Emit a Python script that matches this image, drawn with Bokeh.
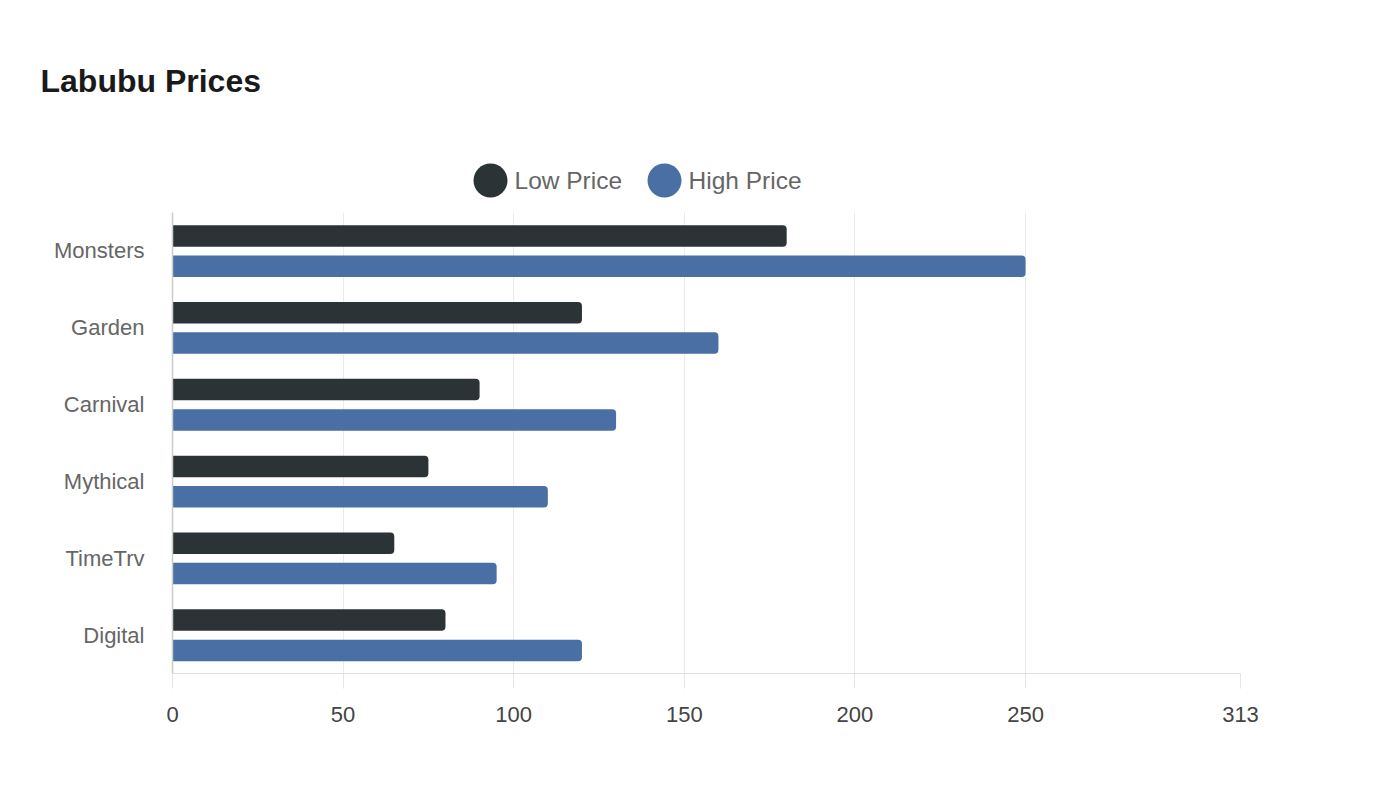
from bokeh.plotting import figure
from bokeh.models import Range1d, FactorRange, FixedTicker, ColumnDataSource
from bokeh.transform import dodge
from bokeh.layouts import column
from bokeh.core.properties import value
from bokeh.embed import file_html
from bokeh.resources import INLINE

# ---- data ----
categories = ["Monsters", "Garden", "Carnival", "Mythical", "TimeTrv", "Digital"]
low_prices = [180, 120, 90, 75, 65, 80]
high_prices = [250, 160, 130, 110, 95, 120]
series_names = ["Low Price", "High Price"]
x_ticks = [0, 50, 100, 150, 200, 250, 313]
x_max = 313
title_text = "Labubu Prices"

LOW_COLOR = "#2b3336"
HIGH_COLOR = "#4a6fa5"
FONT = "Liberation Sans"

W = 1380
HH = 202           # header height
MH = 586           # main chart height

# ---- header (title + legend), 1 data unit = 1 pixel ----
hdr = figure(width=W, height=HH, x_range=Range1d(0, W), y_range=Range1d(0, HH),
             output_backend="svg", toolbar_location=None,
             x_axis_type=None, y_axis_type=None, min_border=0)
hdr.outline_line_color = None
hdr.grid.visible = False

def py(page_y):
    return HH - page_y

hdr.text(x=[40], y=[py(80)], text=[title_text], text_font=value(FONT),
         text_font_size="32px", text_font_style="bold", text_color="#1a1a1a",
         text_baseline="middle", text_align="left")

circle_cx = [490, 664]
leg_src = ColumnDataSource(dict(
    cx=circle_cx, cy=[py(180)] * 2, tx=[c + 24 for c in circle_cx],
    label=series_names, color=[LOW_COLOR, HIGH_COLOR]))
hdr.scatter(x="cx", y="cy", size=34, color="color", source=leg_src, line_color=None)
hdr.text(x="tx", y="cy", text="label", source=leg_src, text_font=value(FONT),
         text_font_size="24.5px", text_color="#666666", text_baseline="middle",
         text_align="left")

# ---- main chart ----
src = ColumnDataSource(dict(cat=categories, low=low_prices, high=high_prices))
p = figure(width=W, height=MH, x_range=Range1d(0, x_max),
           y_range=FactorRange(factors=list(reversed(categories))),
           output_backend="svg", toolbar_location=None,
           min_border_left=172, min_border_right=140,
           min_border_top=10, min_border_bottom=115)
p.outline_line_color = None

for fig in (hdr, p):
    try:
        fig.frame_align = False
    except Exception:
        pass

def bars(offset, field, color):
    kw = dict(y=dodge("cat", offset, range=p.y_range), right=field, left=0,
              height=0.28, source=src, color=color, line_color=None)
    try:
        p.hbar(border_radius=(0, 4, 4, 0), **kw)
    except Exception:
        p.hbar(**kw)

bars(0.195, "low", LOW_COLOR)
bars(-0.2, "high", HIGH_COLOR)

p.xaxis.ticker = FixedTicker(ticks=x_ticks)
p.xaxis.minor_tick_line_color = None
p.xaxis.major_tick_in = 0
p.xaxis.major_tick_out = 15
p.xaxis.major_tick_line_color = "#e6e6e6"
p.xaxis.axis_line_color = "#e0e0e0"
p.xaxis.major_label_text_font = FONT
p.xaxis.major_label_text_font_size = "22px"
p.xaxis.major_label_text_color = "#444444"
p.xaxis.major_label_standoff = 18

p.yaxis.major_tick_line_color = None
p.yaxis.minor_tick_line_color = None
p.yaxis.axis_line_color = "#cccccc"
p.yaxis.axis_line_width = 1.5
p.yaxis.major_label_text_font = FONT
p.yaxis.major_label_text_font_size = "22px"
p.yaxis.major_label_text_color = "#666666"
p.yaxis.major_label_standoff = 22

p.xgrid.grid_line_color = "#ebebeb"
p.ygrid.grid_line_color = None

layout = column(hdr, p)
open("out.html", "w").write(file_html(layout, INLINE))
